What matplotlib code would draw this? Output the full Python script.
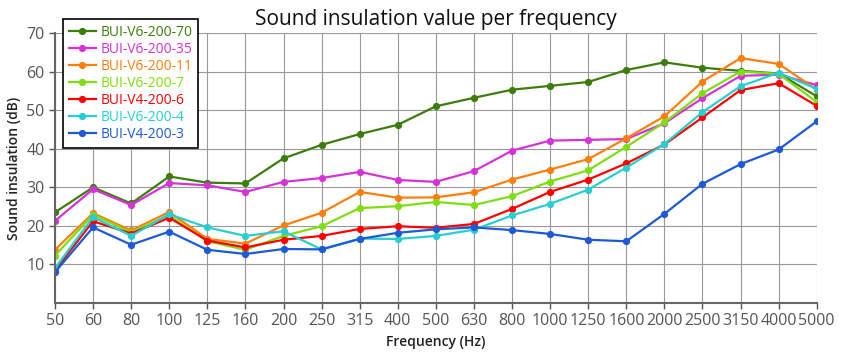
import matplotlib
matplotlib.use("Agg")
import matplotlib.pyplot as plt
import numpy as np

plt.rcParams['font.family'] = ['Open Sans', 'DejaVu Sans']

# frequencies (categorical axis)
frequencies = ['50', '60', '80', '100', '125', '160', '200', '250', '315', '400', '500',
               '630', '800', '1000', '1250', '1600', '2000', '2500', '3150', '4000', '5000']

bui_v6_200_70 = [23.5, 30.0, 25.8, 32.8, 31.2, 31.0, 37.5, 41.0, 43.8, 46.2, 51.0,
                 53.2, 55.3, 56.3, 57.3, 60.4, 62.4, 61.0, 60.2, 59.5, 53.6]
bui_v6_200_35 = [21.3, 29.5, 25.4, 31.1, 30.5, 28.8, 31.4, 32.4, 34.0, 31.9, 31.4,
                 34.2, 39.5, 42.1, 42.3, 42.5, 46.6, 53.1, 58.9, 59.2, 56.5]
bui_v6_200_11 = [13.8, 23.3, 18.8, 23.6, 16.6, 15.4, 20.1, 23.4, 28.8, 27.3, 27.4,
                 28.7, 32.0, 34.6, 37.3, 42.7, 48.4, 57.4, 63.5, 62.0, 55.3]
bui_v6_200_7 = [12.3, 22.9, 18.3, 22.8, 16.0, 13.8, 17.4, 19.9, 24.6, 25.1, 26.2,
                25.4, 27.7, 31.5, 34.4, 40.5, 46.8, 54.4, 60.0, 59.4, 52.1]
bui_v4_200_6 = [8.5, 21.2, 18.0, 22.1, 16.2, 14.4, 16.4, 17.4, 19.2, 19.9, 19.5,
                20.5, 24.4, 28.8, 32.0, 36.2, 41.1, 48.1, 55.2, 57.0, 51.1]
bui_v6_200_4 = [9.0, 22.3, 17.4, 23.0, 19.6, 17.4, 18.6, 13.9, 16.7, 16.6, 17.4,
                19.0, 22.7, 25.7, 29.4, 35.1, 41.2, 49.5, 56.2, 59.7, 55.5]
bui_v4_200_3 = [8.0, 19.6, 15.1, 18.5, 13.8, 12.7, 14.0, 13.9, 16.6, 18.2, 19.1,
                19.6, 18.9, 17.9, 16.4, 16.0, 23.1, 30.9, 36.0, 39.8, 47.1]

series = [
    ('BUI-V6-200-70', bui_v6_200_70, '#3d7d0c'),
    ('BUI-V6-200-35', bui_v6_200_35, '#d633d6'),
    ('BUI-V6-200-11', bui_v6_200_11, '#ff7f0e'),
    ('BUI-V6-200-7', bui_v6_200_7, '#7ede12'),
    ('BUI-V4-200-6', bui_v4_200_6, '#ff0000'),
    ('BUI-V6-200-4', bui_v6_200_4, '#27cfd2'),
    ('BUI-V4-200-3', bui_v4_200_3, '#1f5ad6'),
]

fig = plt.figure(figsize=(8.42, 3.55), dpi=100)
ax = fig.add_axes([0.0653, 0.1465, 0.9047, 0.7605])

x = np.arange(len(frequencies))
for name, vals, col in series:
    ax.plot(x, vals, color=col, lw=1.6, marker='o', markersize=4.2, label=name)

ax.set_xlim(0, len(frequencies) - 1)
ax.set_ylim(0, 70)
ax.set_xticks(x)
ax.set_xticklabels(frequencies)
ax.set_yticks([10, 20, 30, 40, 50, 60, 70])
ax.grid(True, color='#999999', lw=0.8)
ax.set_axisbelow(True)
for s in ['top', 'right']:
    ax.spines[s].set_visible(False)
for s in ['left', 'bottom']:
    ax.spines[s].set_color('#666666')
    ax.spines[s].set_linewidth(1.5)
ax.tick_params(colors='#555555', labelsize=11.5, length=4, width=1)

ax.set_title('Sound insulation value per frequency', fontsize=15, color='#111111', pad=6)
ax.set_xlabel('Frequency (Hz)', fontsize=10, color='#222222', fontweight='semibold')
ax.set_ylabel('Sound insulation (dB)', fontsize=10, color='#222222', fontweight='semibold')

leg = ax.legend(loc='upper left', bbox_to_anchor=(0.0105, 1.052), borderaxespad=0,
                fontsize=10, frameon=True, fancybox=False, edgecolor='black', framealpha=1,
                handlelength=2.0, handletextpad=0.3, labelspacing=0.15, borderpad=0.4)
leg.get_frame().set_linewidth(1.2)
leg.set_zorder(5)
for txt, (_, _, col) in zip(leg.get_texts(), series):
    txt.set_color(col)

fig.savefig('out.png', dpi=100)
